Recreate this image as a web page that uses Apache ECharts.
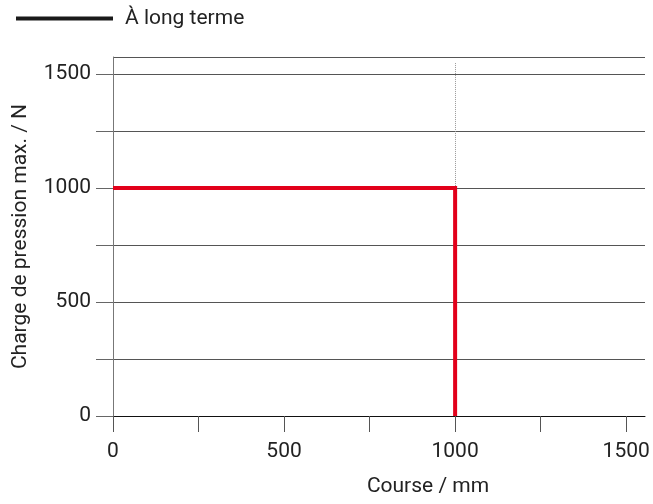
<!DOCTYPE html>
<html><head><meta charset="utf-8">
<script src="https://cdn.jsdelivr.net/npm/echarts@6/dist/echarts.min.js"></script>
<style>html,body{margin:0;padding:0;background:#fff}#c{width:653px;height:504px}</style>
</head><body><div id="c"></div>
<script>
const seriesName = 'À long terme';
const strokeX = [0, 1000, 1000];
const loadY = [1000, 1000, 0];
const xTickLabels = [0, 500, 1000, 1500];
const yTickLabels = [0, 500, 1000, 1500];
const limitX = 1000;

const chart = echarts.init(document.getElementById('c'));
const font = 'Roboto, "Noto Sans", sans-serif';
chart.setOption({
  animation: false,
  textStyle: {fontFamily: font},
  legend: {
    left: 16, top: 8, padding: 0,
    icon: 'rect', itemWidth: 97, itemHeight: 4,
    data: [{name: seriesName, itemStyle: {color: '#1a1a1a'}}],
    textStyle: {fontSize: 21, color: '#222', fontFamily: font, padding: [0,0,0,7]}
  },
  grid: {left: 113, right: 8, top: 57, bottom: 88, containLabel: false, outerBoundsMode: 'none'},
  xAxis: {
    type: 'value', min: 0, max: 1555, interval: 250,
    name: 'Course / mm', nameLocation: 'middle', nameGap: 60,
    nameTextStyle: {fontSize: 21, color: '#222', padding: [0,0,0,98]},
    axisLine: {show: true, lineStyle: {color: '#111', width: 1}},
    axisTick: {show: true, length: 16, inside: false, lineStyle: {color: '#555'}},
    axisLabel: {fontSize: 21, color: '#222', margin: 25, showMaxLabel: false,
      formatter: v => xTickLabels.includes(v) ? String(v) : ''},
    splitLine: {show: false}
  },
  yAxis: {
    type: 'value', min: 0, max: 1575, interval: 250,
    name: 'Charge de pression max. / N', nameLocation: 'middle', nameGap: 82,
    nameTextStyle: {fontSize: 21, color: '#222'},
    axisLine: {show: true, lineStyle: {color: '#777', width: 1}},
    axisTick: {show: true, length: 17, lineStyle: {color: '#666'}},
    axisLabel: {fontSize: 21, color: '#222', margin: 22, showMaxLabel: false,
      formatter: v => yTickLabels.includes(v) ? String(v) : ''},
    splitLine: {show: true, lineStyle: {color: '#555', width: 1}}
  },
  series: [{
    name: seriesName, type: 'line',
    data: strokeX.map((x, i) => [x, loadY[i]]),
    symbol: 'none',
    lineStyle: {color: '#e2001a', width: 4, join: 'miter'},
    itemStyle: {color: '#e2001a'},
    z: 5,
    markLine: {
      silent: true, symbol: 'none', label: {show: false},
      lineStyle: {color: '#999', type: 'dotted', width: 1},
      data: [[{coord: [limitX, 1000]}, {coord: [limitX, 1550]}]]
    }
  }]
});
</script></body></html>
